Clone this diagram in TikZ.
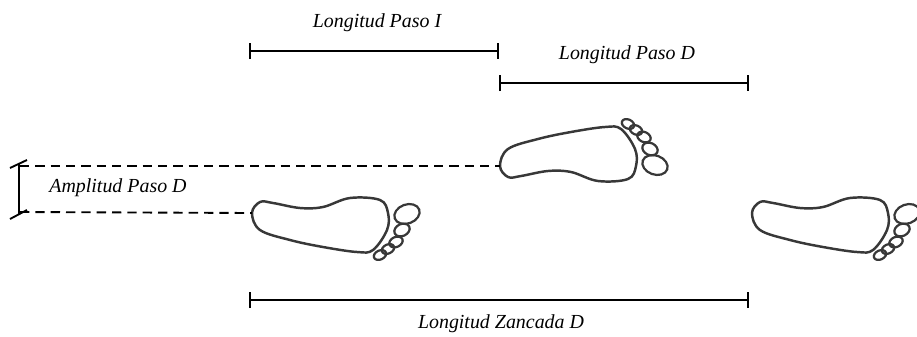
\documentclass[tikz,border=0pt]{standalone}
\usepackage{fontspec}
\setmainfont{Liberation Serif}
\usetikzlibrary{arrows.meta}

\begin{document}
\begin{tikzpicture}[
    x=0.03cm, y=-0.03cm,
    sole/.style={draw=black!78, line width=2.1pt, line join=round},
    toe/.style={draw=black!78, line width=1.9pt},
    span/.style={{Bar[width=0.48cm]}-{Bar[width=0.48cm]}, line width=1.6pt},
    serif/.style={line width=1.6pt},
    guide/.style={dash pattern=on 0.28cm off 0.18cm, line width=1.6pt},
    txt/.style={font=\fontsize{17}{20}\selectfont\itshape, inner sep=0pt},
    foot/.pic={
        \coordinate (-heel) at (2,0);
        \draw[sole] plot[smooth cycle, tension=0.6] coordinates {
            (2,0) (10,17) (40,27) (73,34) (107,39) (123,37) (137,17)
            (138,0) (130,-13) (100,-15) (73,-6) (50,-5) (23,-10) (10,-11)};
        % toes, big one first
        \draw[toe] (157,1)  ellipse [x radius=13,  y radius=9.5, rotate=20];
        \draw[toe] (152,17) ellipse [x radius=8,   y radius=6,   rotate=25];
        \draw[toe] (146,29) ellipse [x radius=7,   y radius=5,   rotate=25];
        \draw[toe] (138,36) ellipse [x radius=6.5, y radius=4.5, rotate=25];
        \draw[toe] (130,42) ellipse [x radius=6.5, y radius=4.5, rotate=25];
    },
]
\useasboundingbox (0,0) rectangle (917,337);

% footprints
\pic (footA) at (250,213) {foot};
\pic[yscale=-1] (footB) at (498,166) {foot};
\pic (footC) at (750,213) {foot};

% measuring bars
\coordinate (i0) at (249,51);
\coordinate (i1) at (499,51);
\coordinate (d0) at (499,83);
\coordinate (d1) at (749,83);
\coordinate (z0) at (249,300);
\coordinate (z1) at (749,300);

\draw[span] (i0) -- (i1);
\draw[span] (d0) -- (d1);
\draw[span] (z0) -- (z1);

\node[txt] (pasoI)    at (377,23)  {Longitud Paso I};
\node[txt] (pasoD)    at (627,55)  {Longitud Paso D};
\node[txt] (zancada)  at (501,324) {Longitud Zancada D};

% step width
\coordinate (atop) at (19,164);
\coordinate (abot) at (19,214);
\draw[guide] (20,166) -- (footB-heel);
\draw[guide] (20,212) -- (footA-heel);
\draw[serif] (abot) -- (atop);
\draw[serif] (atop) ++(-9,4) -- ++(17,-8);
\draw[serif] (abot) ++(-9,5) -- ++(17,-9);
\node[txt] (amplitud) at (118,188) {Amplitud Paso D};

\end{tikzpicture}
\end{document}
